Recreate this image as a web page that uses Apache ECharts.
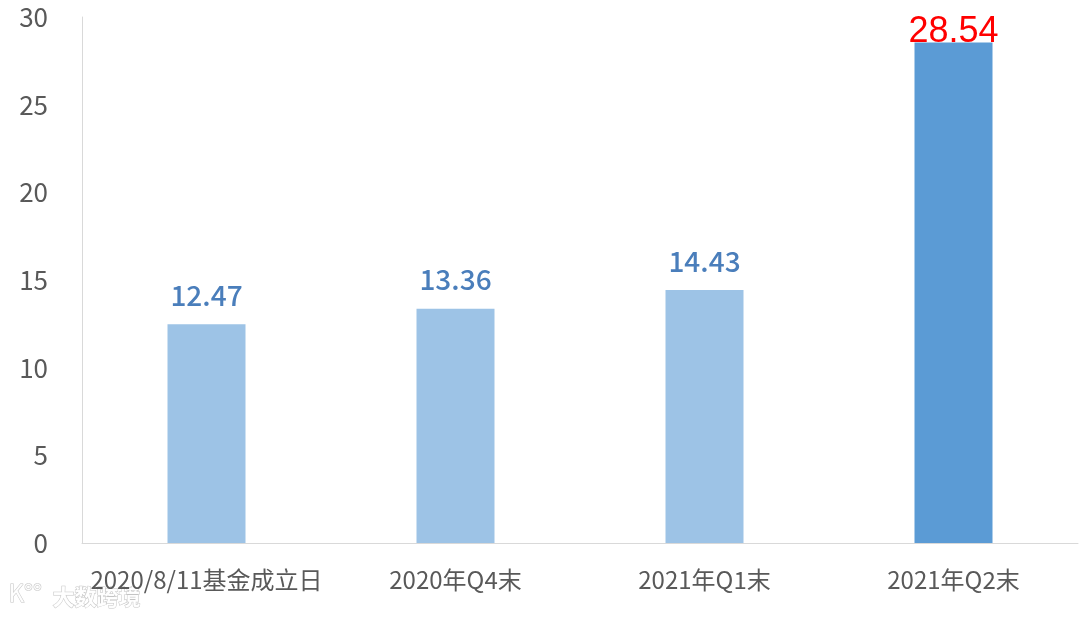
<!DOCTYPE html>
<html><head><meta charset="utf-8">
<script src="https://cdn.jsdelivr.net/npm/echarts@6/dist/echarts.min.js"></script>
<style>html,body{margin:0;padding:0;background:#fff}#c{width:1080px;height:617px}</style>
</head><body><div id="c"></div>
<script>
const categories = ['2020/8/11基金成立日', '2020年Q4末', '2021年Q1末', '2021年Q2末'];
const values = [12.47, 13.36, 14.43, 28.54];
const highlightIndex = 3;
const yTicks = [0, 5, 10, 15, 20, 25, 30];

const FONT = '"Noto Sans CJK SC", "Noto Sans", sans-serif';
const chart = echarts.init(document.getElementById('c'));
const data = values.map((v, i) => {
  if (i === highlightIndex) {
    return {
      value: v,
      itemStyle: { color: '#5B9BD5' },
      label: { color: '#FF0000', fontSize: 36, fontFamily: '"Liberation Sans", sans-serif', distance: -7 }
    };
  }
  return v;
});
chart.setOption({
  animation: false,
  grid: { left: 82, right: 2, top: 17, bottom: 74 },
  xAxis: {
    type: 'category', data: categories,
    axisLine: { lineStyle: { color: '#D9D9D9', width: 1 } },
    axisTick: { show: false },
    axisLabel: { color: '#595959', fontSize: 24, fontFamily: FONT, margin: 25, interval: 0 }
  },
  yAxis: {
    type: 'value', min: yTicks[0], max: yTicks[yTicks.length - 1], interval: 5,
    axisLine: { show: true, lineStyle: { color: '#D9D9D9', width: 1 } },
    axisTick: { show: false },
    splitLine: { show: false },
    axisLabel: { color: '#595959', fontSize: 26, fontFamily: FONT, margin: 34 }
  },
  series: [{
    type: 'bar', data: data, barWidth: 78,
    itemStyle: { color: '#9DC3E6' },
    label: { show: true, position: 'top', color: '#4A7EBB', fontSize: 28, fontWeight: 500, fontFamily: FONT, distance: 15,
      formatter: p => p.value.toFixed(2) }
  }],
  graphic: [{
    type: 'text', left: 52, top: 585,
    style: { text: '大数跨境', fill: 'rgba(255,255,255,0.95)', stroke: '#C4C4C4', lineWidth: 1,
      fontSize: 22, fontFamily: FONT, fontWeight: 'bold' }
  }, {
    type: 'text', left: 8, top: 580,
    style: { text: 'K°°', fill: 'rgba(255,255,255,0.95)', stroke: '#C4C4C4', lineWidth: 1, fontSize: 24, fontFamily: FONT }
  }]
});
</script></body></html>
